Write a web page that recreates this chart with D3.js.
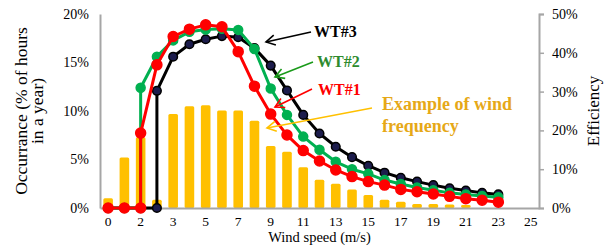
<!DOCTYPE html>
<html>
<head>
<meta charset="utf-8">
<script src="https://cdn.jsdelivr.net/npm/d3@7"></script>
<style>
  body { margin: 0; background: #fff; }
  #chart svg { display: block; }
  #chart svg text { font-family: 'Liberation Serif', 'Noto Serif', 'DejaVu Serif', 'Liberation Sans', sans-serif; }
</style>
</head>
<body>
<div id="chart"></div>
<script>
(function() {

  'use strict'

  // wind speed categories (m/s), every other one is labelled
  var windCats = ['0', '1', '2', '2.5', '3', '4', '5', '6', '7', '8', '9', '10', '11', '12',
    '13', '14', '15', '16', '17', '18', '19', '20', '21', '22', '23', '24', '25'];

  // example of wind frequency, % of hours in a year
  var freqPct = [1.0, 5.2, 7.3, 0.85, 9.7, 10.5, 10.6, 10.05, 10.05, 9.0, 6.4, 5.8, 4.2,
    2.9, 2.5, 1.9, 1.35, 0.85, 0.65, 0.4, 0.4, 0.35, 0.3];

  // turbine efficiency curves, %
  var wt1Speed = [0, 1, 2, 2, 2.5, 3, 4, 5, 6, 7, 8, 9, 10, 11, 12, 13, 14, 15, 16, 17, 18, 19, 20, 21, 22, 23];
  var wt1Eff = [0, 0, 0, 19.3, 36.9, 44.2, 46.1, 47.2, 46.7, 40.3, 31.4, 24.2, 18.8, 14.8, 12.1,
    9.8, 8.1, 6.8, 5.9, 4.8, 4.2, 3.6, 3.0, 2.4, 2.0, 1.5];

  var wt2Speed = [0, 1, 2, 2, 2.5, 3, 4, 5, 6, 7, 8, 9, 10, 11, 12, 13, 14, 15, 16, 17, 18, 19, 20, 21, 22, 23];
  var wt2Eff = [0, 0, 0, 31.0, 39.0, 43.2, 45.4, 46.0, 46.2, 45.9, 41.0, 30.8, 24.0, 18.4, 15.0,
    11.9, 10.0, 8.8, 7.2, 6.2, 5.3, 4.6, 3.9, 3.5, 3.1, 2.8];

  var wt3Speed = [0, 1, 2, 2.5, 2.5, 3, 4, 5, 6, 7, 8, 9, 10, 11, 12, 13, 14, 15, 16, 17, 18, 19, 20, 21, 22, 23];
  var wt3Eff = [0, 0, 0, 0, 30.2, 39.0, 42.2, 43.5, 44.3, 44.0, 41.2, 36.7, 30.3, 24.0, 19.2,
    15.8, 13.1, 10.9, 9.1, 7.8, 6.8, 5.9, 5.1, 4.5, 3.9, 3.5];

  var leftTicks = [0, 5, 10, 15, 20];
  var rightTicks = [0, 10, 20, 30, 40, 50];

  var Chart = function(element) {
    this.element = element;
    this.svg = null;

    this.width = 616;
    this.height = 248;

    this.plot = { left: 100, right: 539, top: 14, bottom: 208 };

    this.axisColor = '#a6a6a6';
    this.barFill = '#ffc000';
  };

  Chart.prototype.init = function() {
    this.svg = d3.select(this.element).append('svg')
      .attr('width', this.width)
      .attr('height', this.height);

    this.x = d3.scaleBand()
      .domain(windCats)
      .range([this.plot.left, this.plot.right])
      .paddingInner(0.41)
      .paddingOuter(0.205);

    this.yLeft = d3.scaleLinear().domain([0, 20]).range([this.plot.bottom, this.plot.top]);
    this.yRight = d3.scaleLinear().domain([0, 50]).range([this.plot.bottom, this.plot.top]);

    this.setMarkers().setBars().setAxes();
    this.setLine(wt3Speed, wt3Eff, { stroke: '#000', fill: '#1c1c4c', markerStroke: '#000', r: 4.3 });
    this.setLine(wt2Speed, wt2Eff, { stroke: '#00b050', fill: '#00b050', markerStroke: '#00b050', r: 4.5 });
    this.setLine(wt1Speed, wt1Eff, { stroke: '#ff0000', fill: '#ff0000', markerStroke: '#ff0000', r: 5 });
    this.setNotes();
  };

  Chart.prototype.cx = function(speed) {
    return this.x(String(speed)) + this.x.bandwidth() / 2;
  };

  Chart.prototype.setMarkers = function() {
    var defs = this.svg.append('defs');
    [['black', '#000'], ['green', '#1a9a1a'], ['red', '#ff0000'], ['gold', '#ffc000']].forEach(function(m) {
      defs.append('marker')
        .attr('id', 'arrow-' + m[0])
        .attr('viewBox', '-10 -6 12 12')
        .attr('refX', 0)
        .attr('refY', 0)
        .attr('markerWidth', 12)
        .attr('markerHeight', 12)
        .attr('markerUnits', 'userSpaceOnUse')
        .attr('orient', 'auto-start-reverse')
        .append('path')
        .attr('d', 'M-9,-5 L0,0 L-9,5')
        .attr('fill', 'none')
        .attr('stroke', m[1])
        .attr('stroke-width', 1.6);
    });
    return this;
  };

  Chart.prototype.setBars = function() {
    var self = this;
    this.svg.append('g')
      .selectAll('rect')
      .data(freqPct)
      .enter().append('rect')
      .attr('x', function(d, i) { return self.x(windCats[i]); })
      .attr('y', function(d) { return self.yLeft(d); })
      .attr('width', this.x.bandwidth())
      .attr('height', function(d) { return self.plot.bottom - self.yLeft(d); })
      .attr('rx', 1.5)
      .style('fill', this.barFill);
    return this;
  };

  Chart.prototype.setAxes = function() {
    var self = this;

    var left = this.svg.append('g')
      .attr('transform', 'translate(' + this.plot.left + ',0)')
      .call(d3.axisLeft(this.yLeft).tickValues(leftTicks).tickSize(0).tickPadding(11)
        .tickFormat(function(d) { return d + '%'; }));

    var right = this.svg.append('g')
      .attr('transform', 'translate(' + this.plot.right + ',0)')
      .call(d3.axisRight(this.yRight).tickValues(rightTicks).tickSize(5).tickPadding(8)
        .tickFormat(function(d) { return d + '%'; }));

    var bottom = this.svg.append('g')
      .attr('transform', 'translate(0,' + this.plot.bottom + ')')
      .call(d3.axisBottom(this.x).tickSize(0).tickPadding(8)
        .tickValues(windCats.filter(function(d, i) { return i % 2 === 0; })));

    [left, right, bottom].forEach(function(g) {
      g.attr('font-family', null);
      g.select('.domain').attr('stroke', self.axisColor).attr('stroke-width', 2);
      g.selectAll('.tick line').attr('stroke', self.axisColor).attr('stroke-width', 1.5);
      g.selectAll('text')
        .attr('font-size', '14px')
        .attr('fill', '#000');
    });
    bottom.selectAll('text').attr('font-size', '13.5px');

    this.svg.append('text')
      .attr('x', (this.plot.left + this.plot.right) / 2)
      .attr('y', 242)
      .attr('text-anchor', 'middle')
      .attr('font-size', '14.5px')
      .text('Wind speed (m/s)');

    var yTitle = this.svg.append('text')
      .attr('transform', 'translate(27,' + ((this.plot.top + this.plot.bottom) / 2) + ') rotate(-90)')
      .attr('text-anchor', 'middle')
      .attr('font-size', '17.5px');
    yTitle.append('tspan').attr('x', 0).attr('dy', 0).text('Occurrance (% of  hours');
    yTitle.append('tspan').attr('x', 0).attr('dy', 15.5).text('in a year)');

    this.svg.append('text')
      .attr('transform', 'translate(599,' + ((this.plot.top + this.plot.bottom) / 2) + ') rotate(-90)')
      .attr('text-anchor', 'middle')
      .attr('font-size', '17px')
      .text('Efficiency');

    return this;
  };

  Chart.prototype.setLine = function(speeds, effs, style) {
    var self = this;
    var pts = speeds.map(function(s, i) { return [self.cx(s), self.yRight(effs[i])]; });

    var g = this.svg.append('g');
    g.append('path')
      .attr('d', d3.line()(pts))
      .attr('fill', 'none')
      .attr('stroke', style.stroke)
      .attr('stroke-width', 3)
      .attr('stroke-linejoin', 'round');

    g.selectAll('circle')
      .data(pts)
      .enter().append('circle')
      .attr('cx', function(d) { return d[0]; })
      .attr('cy', function(d) { return d[1]; })
      .attr('r', style.r)
      .style('fill', style.fill)
      .style('stroke', style.markerStroke)
      .style('stroke-width', 1.5);
    return this;
  };

  Chart.prototype.setNotes = function() {
    var notes = [
      { text: ['WT#3'], color: '#000', arrow: 'black', stroke: '#000', tx: 314, ty: 37, line: [311, 32, 266, 42] },
      { text: ['WT#2'], color: '#2e8b2e', arrow: 'green', stroke: '#1a9a1a', tx: 317, ty: 67, line: [313, 62, 275, 77] },
      { text: ['WT#1'], color: '#ff0000', arrow: 'red', stroke: '#ff0000', tx: 318, ty: 95, line: [312, 89, 275, 107] },
      { text: ['Example of wind', 'frequency'], color: '#e6a817', arrow: 'gold', stroke: '#ffc000', tx: 382, ty: 110, line: [372, 108, 267, 128] }
    ];
    var self = this;

    notes.forEach(function(n) {
      self.svg.append('line')
        .attr('x1', n.line[0]).attr('y1', n.line[1])
        .attr('x2', n.line[2]).attr('y2', n.line[3])
        .attr('stroke', n.stroke)
        .attr('stroke-width', 1.6)
        .attr('marker-end', 'url(#arrow-' + n.arrow + ')');

      var t = self.svg.append('text')
        .attr('x', n.tx)
        .attr('y', n.ty)
        .attr('font-size', n.text.length > 1 ? '18px' : '16px')
        .attr('font-weight', 'bold')
        .style('fill', n.color);
      n.text.forEach(function(s, i) {
        t.append('tspan').attr('x', n.tx).attr('dy', i === 0 ? 0 : 22).text(s);
      });
    });
    return this;
  };

  var app = new Chart('#chart');
  app.init();

})();
</script>
</body>
</html>
